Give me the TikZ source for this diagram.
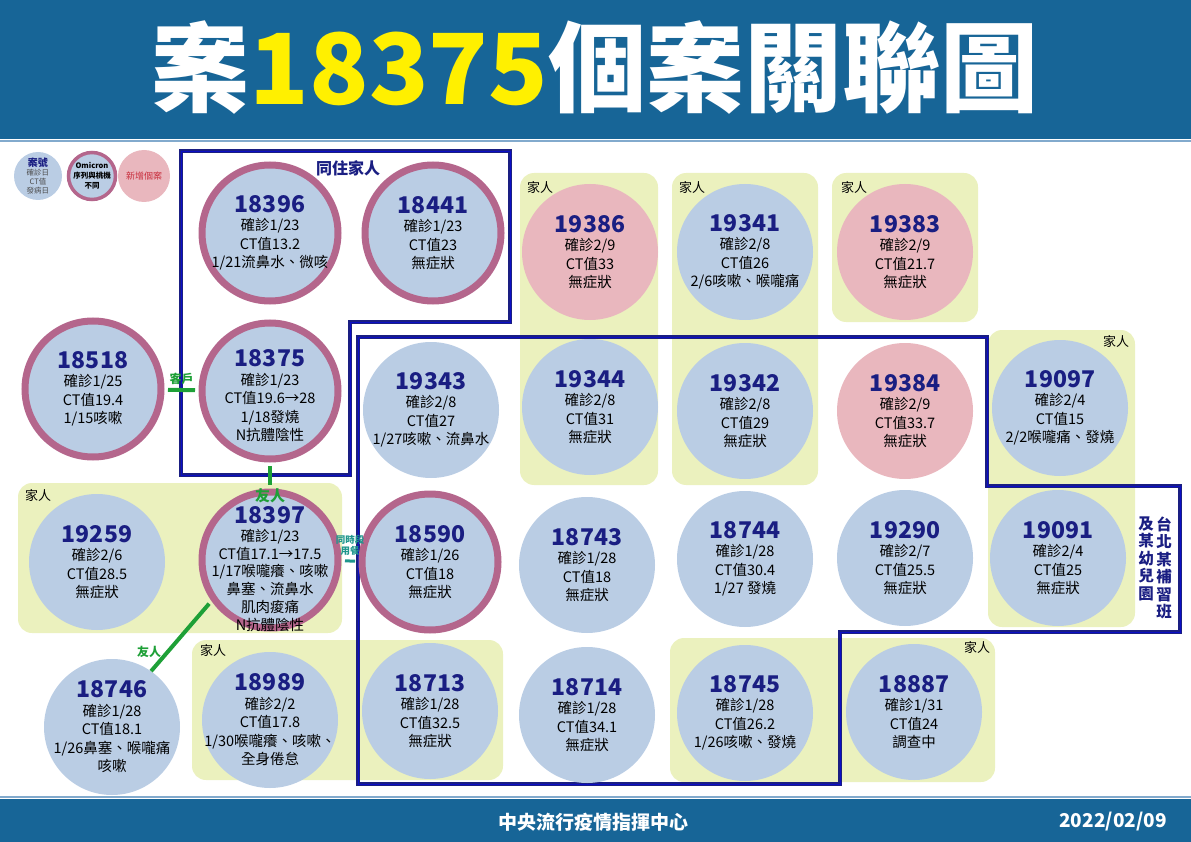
\documentclass[tikz,border=0pt]{standalone}
\usepackage{fontspec}
\setmainfont{Noto Sans CJK TC}
\usetikzlibrary{backgrounds}

\definecolor{headblue}{RGB}{23,101,151}
\definecolor{headline}{RGB}{130,170,205}
\definecolor{titleyellow}{RGB}{255,240,0}
\definecolor{navy}{RGB}{26,30,130}
\definecolor{caseblue}{RGB}{186,205,228}
\definecolor{omiring}{RGB}{180,102,140}
\definecolor{newpink}{RGB}{233,183,190}
\definecolor{famgreen}{RGB}{235,241,190}
\definecolor{linkgreen}{RGB}{30,160,55}
\definecolor{linkteal}{RGB}{30,150,140}
\definecolor{newred}{RGB}{200,45,60}

\newcommand{\casenum}[1]{{\fontsize{23}{27}\selectfont\bfseries\color{navy}#1}}

\tikzset{
  case/.style={circle, fill=caseblue, minimum size=136pt, inner sep=0pt},
  omi/.style={draw=omiring, line width=7pt},
  newcase/.style={fill=newpink},
  info/.style={align=center, font=\fontsize{14.5}{18.5}\selectfont},
  family/.style={fill=famgreen, rounded corners=14pt},
  famlabel/.style={font=\fontsize{13}{15}\selectfont},
  cluster/.style={draw=navy, line width=1.4pt, double=blue!55!navy, double distance=0.8pt},
  link/.style={draw=linkgreen, line width=4pt},
  linklabel/.style={text=linkgreen, font=\fontsize{12}{14}\selectfont\bfseries, inner sep=1pt},
  legend/.style={circle, fill=caseblue, minimum size=48pt, inner sep=0pt},
}

\begin{document}
\begin{tikzpicture}[x=1pt,y=-1pt]
\useasboundingbox (0,0) rectangle (1191,842);

% header and footer
\fill[headblue] (0,0) rectangle (1191,139);
\draw[headline,line width=1.5pt] (0,141) -- (1191,141);
\node[text=white, font=\fontsize{98}{100}\selectfont\bfseries] (title) at (595,68) {案{\color{titleyellow}18375}個案關聯圖};
\fill[headblue] (0,799) rectangle (1191,842);
\draw[headline,line width=1.5pt] (0,797) -- (1191,797);
\node[text=white, font=\fontsize{19}{21}\selectfont\bfseries] (cecc) at (593,822) {中央流行疫情指揮中心};
\node[text=white, font=\fontsize{19}{21}\selectfont\bfseries] (date) at (1113,822) {2022/02/09};

% legend
\node[legend] (lg1) at (38,176) {};
\node[align=center, font=\fontsize{7.5}{9}\selectfont, text=black!70] at (lg1) {{\fontsize{10}{11}\selectfont\bfseries\color{navy}案號}\\確診日\\CT值\\發病日};
\node[legend, draw=omiring, line width=3.5pt, minimum size=47pt] (lg2) at (92,176) {};
\node[align=center, font=\fontsize{7.5}{10}\selectfont\bfseries] at (lg2) {Omicron\\序列與桃機\\不同};
\node[legend, newcase, minimum size=52pt] (lg3) at (144,176) {};
\node[text=newred, font=\fontsize{9}{10}\selectfont] at (lg3) {新增個案};

% family backgrounds
\fill[family] (520,173) rectangle (658,485);
\node[famlabel] at (540,188) {家人};
\fill[family] (672,173) rectangle (818,485);
\node[famlabel] at (692,188) {家人};
\fill[family] (832,173) rectangle (978,322);
\node[famlabel] at (854,188) {家人};
\fill[family] (988,330) rectangle (1135,627);
\node[famlabel] at (1116,342) {家人};
\fill[family] (18,483) rectangle (342,633);
\node[famlabel] at (38,495) {家人};
\fill[family] (192,640) rectangle (503,780);
\node[famlabel] at (213,650) {家人};
\fill[family] (670,638) rectangle (995,782);
\node[famlabel] at (977,647) {家人};

% cluster outlines
\draw[cluster] (181,151) -- (510,151) -- (510,322) -- (350,322) -- (350,475) -- (181,475) -- cycle;
\node[text=navy, font=\fontsize{16}{18}\selectfont\bfseries] (home) at (348,168) {同住家人};
\draw[cluster] (358,337) -- (987,337) -- (987,486) -- (1180,486) -- (1180,632) -- (840,632) -- (840,784) -- (358,784) -- cycle;
\node[text=navy, align=center, anchor=north, font=\fontsize{15.5}{17.5}\selectfont\bfseries] (school) at (1164,513) {台\\北\\某\\補\\習\\班};
\node[text=navy, align=center, anchor=north, font=\fontsize{15.5}{17.5}\selectfont\bfseries] (kinder) at (1146,513) {及\\某\\幼\\兒\\園};

% cases
\node[case, omi] (c18396) at (270,233) {};
\node[info] (t18396) at (c18396) {\casenum{18396}\\確診1/23\\CT值13.2\\1/21流鼻水、微咳};
\node[case, omi] (c18441) at (433,233) {};
\node[info] (t18441) at (c18441) {\casenum{18441}\\確診1/23\\CT值23\\無症狀};
\node[case, omi] (c18518) at (93,389) {};
\node[info] (t18518) at (c18518) {\casenum{18518}\\確診1/25\\CT值19.4\\1/15咳嗽};
\node[case, omi] (c18375) at (270,391) {};
\node[info, yshift=-5pt] (t18375) at (c18375) {\casenum{18375}\\確診1/23\\CT值19.6→28\\1/18發燒\\N抗體陰性};
\node[case, newcase] (c19386) at (590,252) {};
\node[info] (t19386) at (c19386) {\casenum{19386}\\確診2/9\\CT值33\\無症狀};
\node[case] (c19341) at (745,252) {};
\node[info] (t19341) at (c19341) {\casenum{19341}\\確診2/8\\CT值26\\2/6咳嗽、喉嚨痛};
\node[case, newcase] (c19383) at (905,252) {};
\node[info] (t19383) at (c19383) {\casenum{19383}\\確診2/9\\CT值21.7\\無症狀};
\node[case] (c19343) at (431,410) {};
\node[info] (t19343) at (c19343) {\casenum{19343}\\確診2/8\\CT值27\\1/27咳嗽、流鼻水};
\node[case] (c19344) at (590,407) {};
\node[info] (t19344) at (c19344) {\casenum{19344}\\確診2/8\\CT值31\\無症狀};
\node[case] (c19342) at (745,411) {};
\node[info] (t19342) at (c19342) {\casenum{19342}\\確診2/8\\CT值29\\無症狀};
\node[case, newcase] (c19384) at (905,411) {};
\node[info] (t19384) at (c19384) {\casenum{19384}\\確診2/9\\CT值33.7\\無症狀};
\node[case] (c19097) at (1060,408) {};
\node[info] (t19097) at (c19097) {\casenum{19097}\\確診2/4\\CT值15\\2/2喉嚨痛、發燒};
\node[case] (c19259) at (97,562) {};
\node[info] (t19259) at (c19259) {\casenum{19259}\\確診2/6\\CT值28.5\\無症狀};
\node[case, omi] (c18397) at (270,560) {};
\node[info, yshift=-9pt, font=\fontsize{14.5}{17.8}\selectfont] (t18397) at (c18397) {\casenum{18397}\\確診1/23\\CT值17.1→17.5\\1/17喉嚨癢、咳嗽\\鼻塞、流鼻水\\肌肉痠痛\\N抗體陰性};
\node[case, omi] (c18590) at (430,562) {};
\node[info] (t18590) at (c18590) {\casenum{18590}\\確診1/26\\CT值18\\無症狀};
\node[case] (c18743) at (587,565) {};
\node[info] (t18743) at (c18743) {\casenum{18743}\\確診1/28\\CT值18\\無症狀};
\node[case] (c18744) at (745,559) {};
\node[info] (t18744) at (c18744) {\casenum{18744}\\確診1/28\\CT值30.4\\1/27 發燒};
\node[case] (c19290) at (905,558) {};
\node[info] (t19290) at (c19290) {\casenum{19290}\\確診2/7\\CT值25.5\\無症狀};
\node[case] (c19091) at (1058,558) {};
\node[info] (t19091) at (c19091) {\casenum{19091}\\確診2/4\\CT值25\\無症狀};
\node[case] (c18746) at (112,727) {};
\node[info] (t18746) at (c18746) {\casenum{18746}\\確診1/28\\CT值18.1\\1/26鼻塞、喉嚨痛\\咳嗽};
\node[case] (c18989) at (270,720) {};
\node[info] (t18989) at (c18989) {\casenum{18989}\\確診2/2\\CT值17.8\\1/30喉嚨癢、咳嗽、\\全身倦怠};
\node[case] (c18713) at (430,711) {};
\node[info] (t18713) at (c18713) {\casenum{18713}\\確診1/28\\CT值32.5\\無症狀};
\node[case] (c18714) at (587,715) {};
\node[info] (t18714) at (c18714) {\casenum{18714}\\確診1/28\\CT值34.1\\無症狀};
\node[case] (c18745) at (745,713) {};
\node[info] (t18745) at (c18745) {\casenum{18745}\\確診1/28\\CT值26.2\\1/26咳嗽、發燒};
\node[case] (c18887) at (914,712) {};
\node[info] (t18887) at (c18887) {\casenum{18887}\\確診1/31\\CT值24\\調查中};

% links
\draw[link, shorten <=3.5pt, shorten >=3.5pt] (c18518) -- (c18375) node[linklabel, midway, above=2pt] {客戶};
\draw[link, shorten <=3.5pt, shorten >=3.5pt] (c18375) -- (c18397) node[linklabel, pos=1, below=-3pt, font=\fontsize{15}{17}\selectfont\bfseries] {友人};
\draw[link, shorten <=3.5pt] (c18397.215) -- (c18746.55) node[linklabel, pos=0.72, left=4pt] {友人};
\draw[draw=linkteal, line width=3pt, shorten <=3.5pt, shorten >=3.5pt] (c18397) -- (c18590) node[midway, above=1pt, align=center, text=linkteal, font=\fontsize{9.5}{10.5}\selectfont\bfseries] {同時段\\用餐};

\end{tikzpicture}
\end{document}
